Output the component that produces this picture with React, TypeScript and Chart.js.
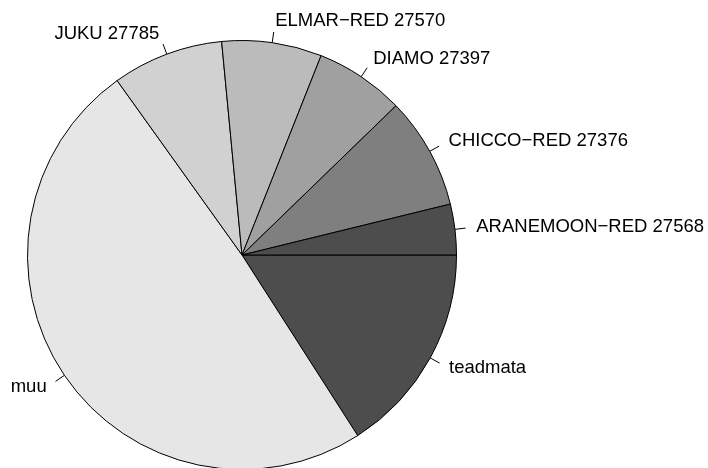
import React, { useEffect, useRef } from "react";
import { Chart, registerables } from "chart.js";

Chart.register(...registerables);

// Slices in the order R draws them (counter-clockwise from 3 o'clock)
const sliceLabels = [
  "ARANEMOON\u2212RED 27568",
  "CHICCO\u2212RED 27376",
  "DIAMO 27397",
  "ELMAR\u2212RED 27570",
  "JUKU 27785",
  "muu",
  "teadmata",
];
const sliceValues = [13.73, 30.37, 24.26, 27.09, 30.15, 177.05, 57.35];
const sliceColors = ["#4D4D4D", "#7F7F7F", "#A0A0A0", "#BBBBBB", "#D1D1D1", "#E6E6E6", "#4D4D4D"];

const FONT = '18.5px "Liberation Sans", Arial, Helvetica, sans-serif';

const labelPlugin = {
  id: "rPieLabels",
  afterDatasetsDraw(chart: any) {
    const ctx = chart.ctx;
    const meta = chart.getDatasetMeta(0);
    const labels: string[] = chart.data.labels;
    ctx.save();
    ctx.font = FONT;
    ctx.fillStyle = "#000";
    ctx.strokeStyle = "#000";
    ctx.lineWidth = 1;
    ctx.textBaseline = "middle";
    meta.data.forEach((arc: any, i: number) => {
      const { x, y, startAngle, endAngle, outerRadius } = arc.getProps(
        ["x", "y", "startAngle", "endAngle", "outerRadius"],
        true
      );
      const mid = (startAngle + endAngle) / 2;
      const c = Math.cos(mid);
      const s = Math.sin(mid);
      ctx.beginPath();
      ctx.moveTo(x + outerRadius * c, y + outerRadius * s);
      ctx.lineTo(x + 1.05 * outerRadius * c, y + 1.05 * outerRadius * s);
      ctx.stroke();
      ctx.textAlign = c < 0 ? "right" : "left";
      ctx.fillText(labels[i], x + 1.1 * outerRadius * c, y + 1.1 * outerRadius * s);
    });
    ctx.restore();
  },
};

export default function App() {
  const canvasRef = useRef<HTMLCanvasElement | null>(null);

  useEffect(() => {
    if (!canvasRef.current) return;
    // Chart.js draws clockwise; R draws counter-clockwise, so reverse the order
    const labels = [...sliceLabels].reverse();
    const values = [...sliceValues].reverse();
    const colors = [...sliceColors].reverse();
    const chart = new Chart(canvasRef.current, {
      type: "pie",
      data: {
        labels,
        datasets: [
          {
            data: values,
            backgroundColor: colors,
            borderColor: "#000000",
            borderWidth: 1,
            hoverOffset: 0,
            clip: false,
          } as any,
        ],
      },
      options: {
        responsive: false,
        animation: false,
        rotation: 90,
        radius: 214.5,
        layout: { padding: { left: 0, right: 224, top: 42, bottom: 0 } },
        plugins: {
          legend: { display: false },
          tooltip: { enabled: false },
        },
        events: [],
      } as any,
      plugins: [labelPlugin],
    });
    return () => chart.destroy();
  }, []);

  return (
    <div style={{ position: "fixed", left: 0, top: 0, width: 708, height: 468, background: "#fff" }}>
      <canvas ref={canvasRef} width={708} height={468} style={{ display: "block" }} />
    </div>
  );
}
